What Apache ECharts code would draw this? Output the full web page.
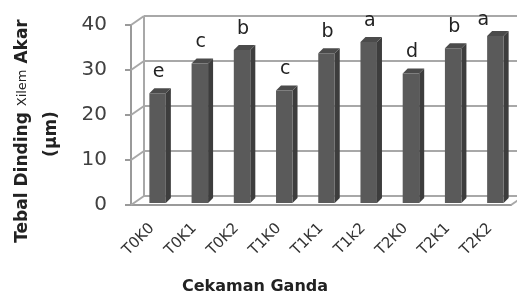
<!DOCTYPE html>
<html>
<head>
<meta charset="utf-8">
<script src="https://cdn.jsdelivr.net/npm/echarts@6/dist/echarts.min.js"></script>
<style>
  html, body { margin: 0; padding: 0; background: #fff; }
  #chart { width: 517px; height: 298px; }
</style>
</head>
<body>
<div id="chart"></div>
<script>
// data
const categories = ['T0K0', 'T0K1', 'T0K2', 'T1K0', 'T1K1', 'T1k2', 'T2K0', 'T2K1', 'T2K2']
const values = [24.4, 31.0, 34.0, 25.0, 33.3, 35.8, 28.8, 34.4, 37.1]
const letters = ['e', 'c', 'b', 'c', 'b', 'a', 'd', 'b', 'a']
const yTicks = [0, 10, 20, 30, 40]

// fake 3d offsets (pixels)
const WALL_DX = 13
const WALL_DY = -9
const BAR_X = 5.5
const BAR_Y = -2
const BAR_W = 16.5
const BAR_DX = 5
const BAR_DY = -5

const chart = echarts.init(document.getElementById('chart'))

function renderWall (params, api) {
  const cs = params.coordSys
  const v = api.value(1)
  const y = api.coord([0, v])[1]
  const x0 = cs.x
  const x1 = cs.x + cs.width
  const style = { stroke: '#a8a8a8', lineWidth: 2, fill: null }
  const children = [
    { type: 'line', shape: { x1: x0, y1: y, x2: x0 + WALL_DX, y2: y + WALL_DY }, style: style },
    { type: 'line', shape: { x1: x0 + WALL_DX, y1: y + WALL_DY, x2: x1 + WALL_DX, y2: y + WALL_DY }, style: style }
  ]
  if (v === 0) {
    // floor right edge + back wall left edge
    children.push({ type: 'line', shape: { x1: x1, y1: y, x2: x1 + WALL_DX, y2: y + WALL_DY }, style: style })
    children.push({ type: 'line', shape: { x1: x0 + WALL_DX, y1: cs.y + WALL_DY, x2: x0 + WALL_DX, y2: y + WALL_DY }, style: style })
  }
  return { type: 'group', children: children }
}

function renderBar (params, api) {
  const i = params.dataIndex
  const base = api.coord([api.value(0), 0])
  const top = api.coord([api.value(0), api.value(1)])
  const cx = base[0] + BAR_X
  const xl = cx - BAR_W / 2
  const xr = cx + BAR_W / 2
  const yb = base[1] + BAR_Y
  const yt = top[1] + BAR_Y
  let lx = cx + 1
  let ly = yt - 21
  if (ly < 18) {
    // excel pushed this one left under the top edge
    ly = 20
    lx = cx - 12
  }
  return {
    type: 'group',
    children: [
      {
        type: 'polygon',
        shape: { points: [[xr, yt], [xr + BAR_DX, yt + BAR_DY], [xr + BAR_DX, yb + BAR_DY], [xr, yb]] },
        style: { fill: '#3d3d3d' }
      },
      {
        type: 'polygon',
        shape: { points: [[xl, yt], [xl + BAR_DX, yt + BAR_DY], [xr + BAR_DX, yt + BAR_DY], [xr, yt]] },
        style: { fill: '#4b4b4b' }
      },
      {
        type: 'rect',
        shape: { x: xl, y: yt, width: BAR_W, height: yb - yt },
        style: { fill: '#5a5a5a' }
      },
      {
        type: 'text',
        style: {
          text: letters[i],
          x: lx,
          y: ly,
          align: 'center',
          verticalAlign: 'middle',
          fontSize: 19,
          fontFamily: 'DejaVu Sans',
          fill: '#222'
        }
      }
    ]
  }
}

const option = {
  animation: false,
  backgroundColor: '#fff',
  grid: {
    left: 131,
    top: 25,
    width: 380,
    height: 180,
    outerBoundsMode: 'none'
  },
  xAxis: {
    type: 'category',
    data: categories,
    axisLine: { lineStyle: { color: '#9a9a9a', width: 2 } },
    axisTick: { show: false },
    axisLabel: {
      rotate: 45,
      margin: 21,
      fontSize: 15,
      fontFamily: 'DejaVu Sans',
      color: '#333'
    }
  },
  yAxis: {
    type: 'value',
    min: 0,
    max: 40,
    interval: 10,
    axisLine: { show: true, lineStyle: { color: '#9a9a9a', width: 2 } },
    axisTick: { show: true, length: 6, lineStyle: { color: '#9a9a9a', width: 2 } },
    axisLabel: {
      margin: 24,
      fontSize: 20,
      fontFamily: 'DejaVu Sans',
      color: '#404040'
    },
    splitLine: { show: false }
  },
  graphic: [
    {
      type: 'text',
      x: 23,
      y: 131,
      rotation: Math.PI / 2,
      style: {
        text: '{b|Tebal Dinding }{s|Xilem}{b| Akar}',
        align: 'center',
        verticalAlign: 'middle',
        rich: {
          b: { fontSize: 17, fontWeight: 'bold', fontFamily: 'DejaVu Sans', fill: '#222' },
          s: { fontSize: 13, fontFamily: 'DejaVu Sans', fill: '#222' }
        }
      }
    },
    {
      type: 'text',
      x: 52,
      y: 134,
      rotation: Math.PI / 2,
      style: {
        text: '(µm)',
        align: 'center',
        verticalAlign: 'middle',
        fontSize: 17,
        fontWeight: 'bold',
        fontFamily: 'DejaVu Sans',
        fill: '#222'
      }
    },
    {
      type: 'text',
      x: 255,
      y: 287,
      style: {
        text: 'Cekaman Ganda',
        align: 'center',
        verticalAlign: 'middle',
        fontSize: 16,
        fontWeight: 'bold',
        fontFamily: 'DejaVu Sans',
        fill: '#222'
      }
    }
  ],
  series: [
    {
      type: 'custom',
      name: 'wall',
      z: 1,
      renderItem: renderWall,
      data: yTicks.map(t => [0, t]),
      silent: true
    },
    {
      type: 'custom',
      name: 'bars',
      z: 3,
      renderItem: renderBar,
      data: values.map((v, i) => [i, v])
    }
  ]
}

chart.setOption(option)
</script>
</body>
</html>
